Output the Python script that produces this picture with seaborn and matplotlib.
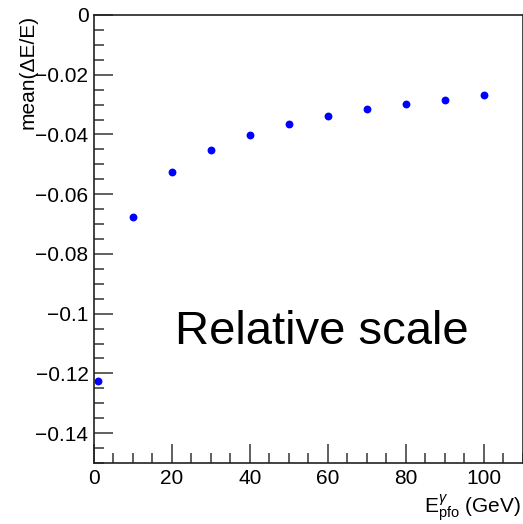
import matplotlib
matplotlib.use("Agg")
import matplotlib.pyplot as plt
import seaborn as sns
import pandas as pd
import numpy as np
from matplotlib.ticker import MultipleLocator, FuncFormatter

# photon energy (GeV) and mean relative energy offset
energy = [1, 10, 20, 30, 40, 50, 60, 70, 80, 90, 100]
mean_de = [-0.1226, -0.0677, -0.0526, -0.0452, -0.0401, -0.0364,
           -0.0338, -0.0315, -0.0298, -0.0285, -0.0268]

df = pd.DataFrame({'energy': energy, 'mean_de': mean_de})

sns.set_style("ticks")
plt.rcParams['font.family'] = ['Liberation Sans', 'DejaVu Sans']
plt.rcParams['mathtext.fontset'] = 'custom'
plt.rcParams['mathtext.rm'] = 'Liberation Sans'
plt.rcParams['mathtext.it'] = 'Liberation Sans:italic'
plt.rcParams['mathtext.sf'] = 'Liberation Sans'
plt.rcParams['text.color'] = 'black'
plt.rcParams['axes.labelcolor'] = 'black'

fig = plt.figure(figsize=(5.23, 5.24), dpi=100)
ax = fig.add_axes([0.1797, 0.1164, 0.8203, 0.855])

sns.scatterplot(data=df, x='energy', y='mean_de', ax=ax, color='#0000ff',
                s=32, linewidth=0, legend=False, clip_on=False)

ax.set_xlim(0, 110)
ax.set_ylim(-0.15, 0)
ax.xaxis.set_major_locator(MultipleLocator(20))
ax.xaxis.set_minor_locator(MultipleLocator(5))
ax.yaxis.set_major_locator(MultipleLocator(0.02))
ax.yaxis.set_minor_locator(MultipleLocator(0.005))
ax.yaxis.set_major_formatter(FuncFormatter(lambda v, p: f"{round(v, 4):g}".replace('-', '\u2212')))

ax.tick_params(which='both', direction='in', color='#444444', width=1.2,
               labelsize=15, labelcolor='black', top=False, right=False)
ax.tick_params(which='major', length=14, pad=4)
ax.tick_params(which='minor', length=7)
for s in ax.spines.values():
    s.set_color('#222222')
    s.set_linewidth(1.2)

ax.set_xlabel(r'$\mathrm{E}^{\gamma}_{\mathrm{pfo}}$ (GeV)', fontsize=15)
ax.xaxis.set_label_coords(0.995, -0.065)
ax.xaxis.label.set_horizontalalignment('right')
ax.set_ylabel('mean(\u0394E/E)', fontsize=15)
ax.yaxis.set_label_coords(-0.175, 1.0)
ax.yaxis.label.set_verticalalignment('top')
ax.yaxis.label.set_horizontalalignment('right')

ax.text(0.19, 0.265, 'Relative scale', transform=ax.transAxes,
        fontsize=34, color='black')

fig.savefig('out.png', dpi=100)
